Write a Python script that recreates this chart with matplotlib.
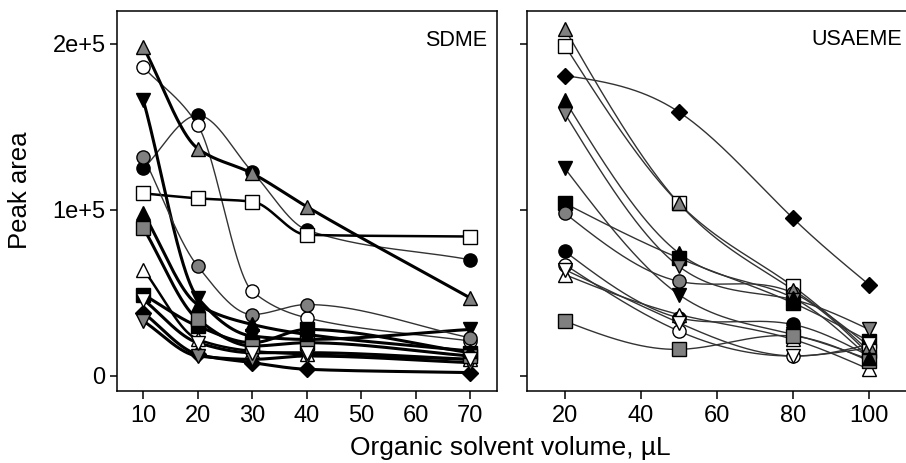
import matplotlib
matplotlib.use("Agg")
import matplotlib.pyplot as plt
import numpy as np

plt.rcParams['font.family'] = ['Liberation Sans', 'DejaVu Sans']

# Data (peak area, units of 1e5)
sdme_x = [10, 20, 30, 40, 70]
usaeme_x = [20, 50, 80, 100]

names = ["black_circle", "white_circle", "black_tri_down", "white_tri_up",
         "black_square", "white_square", "black_diamond", "gray_circle",
         "gray_tri_up", "gray_tri_down", "gray_square", "black_tri_up",
         "white_tri_down"]

sdme_y = [
    [1.25, 1.57, 1.23, 0.88, 0.70],
    [1.86, 1.51, 0.51, 0.35, 0.21],
    [1.66, 0.47, 0.24, 0.22, 0.28],
    [0.64, 0.22, 0.15, 0.13, 0.10],
    [0.49, 0.30, 0.20, 0.28, 0.14],
    [1.10, 1.07, 1.05, 0.85, 0.84],
    [0.38, 0.13, 0.08, 0.04, 0.02],
    [1.32, 0.66, 0.37, 0.43, 0.23],
    [1.98, 1.37, 1.22, 1.02, 0.47],
    [0.33, 0.12, 0.10, 0.12, 0.08],
    [0.89, 0.34, 0.18, 0.20, 0.12],
    [0.98, 0.43, 0.31, 0.25, 0.15],
    [0.46, 0.20, 0.14, 0.14, 0.10],
]

usaeme_y = [
    [0.75, 0.35, 0.31, 0.12],
    [0.67, 0.27, 0.12, 0.17],
    [1.25, 0.49, 0.25, 0.10],
    [0.61, 0.37, 0.22, 0.04],
    [1.04, 0.71, 0.44, 0.21],
    [1.99, 1.04, 0.54, 0.15],
    [1.81, 1.59, 0.95, 0.55],
    [0.98, 0.57, 0.50, 0.13],
    [2.09, 1.04, 0.52, 0.18],
    [1.58, 0.66, 0.46, 0.28],
    [0.33, 0.16, 0.24, 0.09],
    [1.66, 0.74, 0.47, 0.11],
    [0.64, 0.32, 0.12, 0.19],
]

# Styles
markers = ["o", "o", "v", "^", "s", "s", "D", "o", "^", "v", "s", "^", "v"]
fills = ["black", "white", "black", "white", "black", "white", "black",
         "#808080", "#808080", "#808080", "#808080", "black", "white"]
sdme_lw = [1.0, 1.0, 2.2, 1.8, 2.2, 1.8, 2.2, 1.0, 2.2, 2.2, 2.2, 2.2, 2.2]


def natural_spline(x, y, n=80):
    """Natural cubic spline through the points, for drawing only."""
    x = np.asarray(x, float)
    y = np.asarray(y, float)
    m = len(x)
    h = np.diff(x)
    A = np.zeros((m, m))
    r = np.zeros(m)
    A[0, 0] = A[-1, -1] = 1
    for i in range(1, m - 1):
        A[i, i - 1] = h[i - 1]
        A[i, i] = 2 * (h[i - 1] + h[i])
        A[i, i + 1] = h[i]
        r[i] = 3 * ((y[i + 1] - y[i]) / h[i] - (y[i] - y[i - 1]) / h[i - 1])
    c = np.linalg.solve(A, r)
    xs, ys = [], []
    for i in range(m - 1):
        b = (y[i + 1] - y[i]) / h[i] - h[i] * (2 * c[i] + c[i + 1]) / 3
        d = (c[i + 1] - c[i]) / (3 * h[i])
        t = np.linspace(0, h[i], n)
        xs.append(x[i] + t)
        ys.append(y[i] + b * t + c[i] * t ** 2 + d * t ** 3)
    return np.concatenate(xs), np.concatenate(ys)


def pchip(x, y, n=80):
    """Shape-preserving cubic (Fritsch-Carlson), for drawing only."""
    x = np.asarray(x, float)
    y = np.asarray(y, float)
    h = np.diff(x)
    delta = np.diff(y) / h
    m = len(x)
    d = np.zeros(m)
    for k in range(1, m - 1):
        if delta[k - 1] * delta[k] > 0:
            w1 = 2 * h[k] + h[k - 1]
            w2 = h[k] + 2 * h[k - 1]
            d[k] = (w1 + w2) / (w1 / delta[k - 1] + w2 / delta[k])
    d[0] = delta[0]
    d[-1] = delta[-1]
    xs, ys = [], []
    for k in range(m - 1):
        t = np.linspace(0, 1, n)
        h00 = 2 * t ** 3 - 3 * t ** 2 + 1
        h10 = t ** 3 - 2 * t ** 2 + t
        h01 = -2 * t ** 3 + 3 * t ** 2
        h11 = t ** 3 - t ** 2
        xs.append(x[k] + t * h[k])
        ys.append(h00 * y[k] + h10 * h[k] * d[k] + h01 * y[k + 1] + h11 * h[k] * d[k + 1])
    return np.concatenate(xs), np.concatenate(ys)


def draw_panel(ax, x, ys, lws, col, curve):
    for i, y in enumerate(ys):
        yy = np.array(y) * 1e5
        sx, sy = curve(x, yy)
        ax.plot(sx, sy, color=col[i], lw=lws[i], zorder=2, solid_capstyle="round")
    for i, y in enumerate(ys):
        yy = np.array(y) * 1e5
        ms = 9.5 if markers[i] != "D" else 8.5
        ax.plot(x, yy, ls="none", marker=markers[i], ms=ms,
                mfc=fills[i], mec="black", mew=1.0, zorder=3 + i * 0.01)


fig = plt.figure(figsize=(9.06, 4.63), dpi=100)
ax1 = fig.add_axes([0.1288, 0.1562, 0.4201, 0.8201])
ax2 = fig.add_axes([0.5820, 0.1562, 0.4246, 0.8201])

draw_panel(ax1, sdme_x, sdme_y, sdme_lw,
           ["black" if w > 1.5 else "#333333" for w in sdme_lw], pchip)
draw_panel(ax2, usaeme_x, usaeme_y, [1.0] * len(names),
           ["#333333"] * len(names), natural_spline)

for ax in (ax1, ax2):
    ax.set_ylim(-8900, 219900)
    ax.set_yticks([0, 1e5, 2e5])
    for s in ax.spines.values():
        s.set_linewidth(1.1)
    ax.tick_params(direction="out", length=5, width=1.1, labelsize=17, pad=3)
    ax.tick_params(axis="x", length=6, pad=4)

ax1.set_xlim(5.1, 75)
ax1.set_xticks([10, 20, 30, 40, 50, 60, 70])
ax1.set_yticklabels(["0", "1e+5", "2e+5"])
ax2.set_xlim(10.1, 111.3)
ax2.set_xticks([20, 40, 60, 80, 100])
ax2.set_yticklabels([])
ax2.spines["right"].set_visible(False)

ax1.text(0.973, 0.950, "SDME", transform=ax1.transAxes, ha="right", va="top",
         fontsize=15.5)
ax2.text(0.974, 0.952, "USAEME", transform=ax2.transAxes, ha="right", va="top",
         fontsize=15.5)

fig.text(20 / 906, 0.59, "Peak area", rotation=90, ha="center", va="center",
         fontsize=18.5)
fig.text(510 / 906, 8 / 463, "Organic solvent volume, \u00b5L", ha="center",
         va="baseline", fontsize=19)

fig.savefig("out.png", dpi=100)
